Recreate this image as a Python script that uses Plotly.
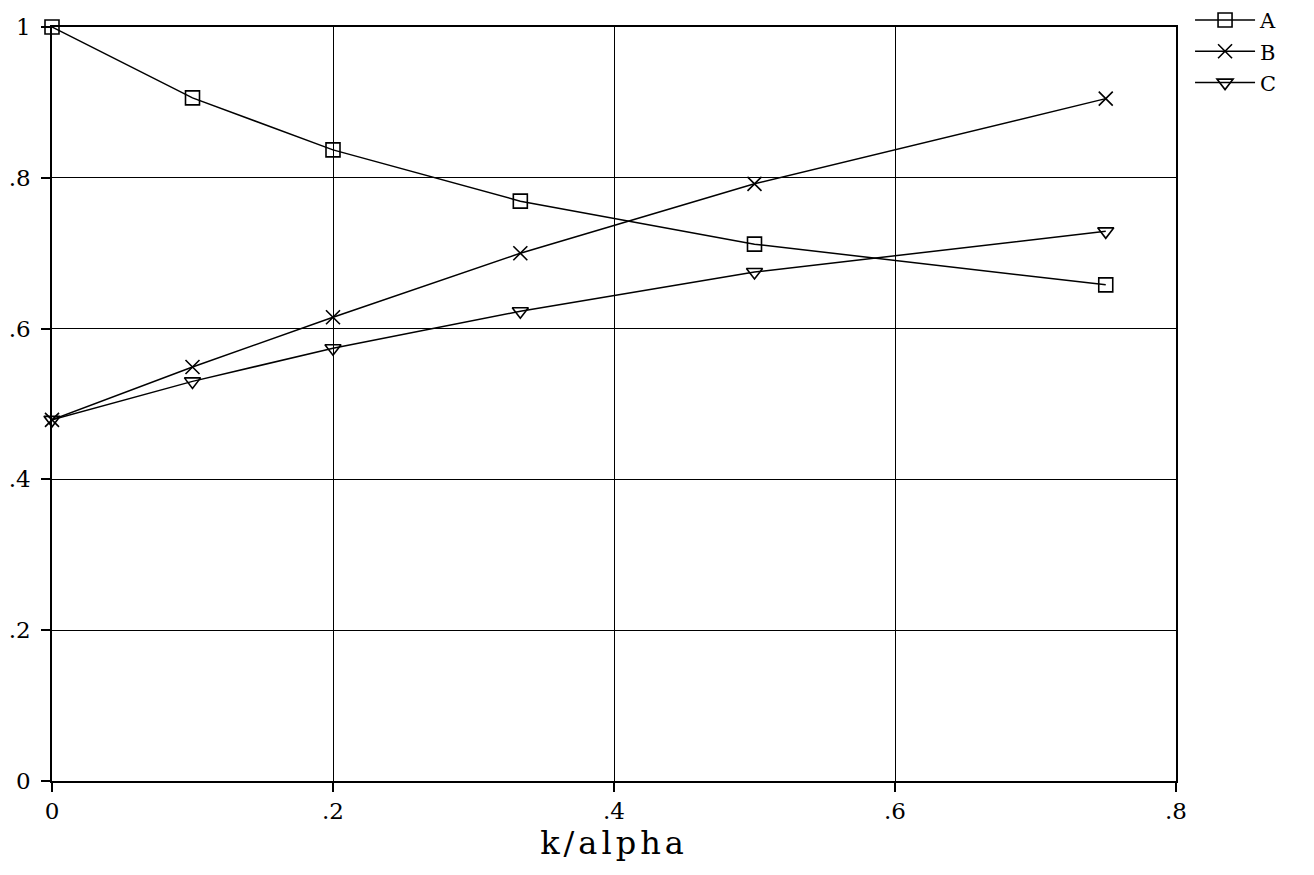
import plotly.graph_objects as go

x_vals = [0.0, 0.1, 0.2, 1/3, 0.5, 0.75]
series_a = [1.0, 0.906, 0.837, 0.769, 0.712, 0.658]
series_b = [0.479, 0.549, 0.615, 0.700, 0.792, 0.905]
series_c = [0.479, 0.530, 0.574, 0.623, 0.675, 0.729]
x_ticks = [0, 0.2, 0.4, 0.6, 0.8]
x_ticktext = ["0", ".2", ".4", ".6", ".8"]
y_ticks = [0, 0.2, 0.4, 0.6, 0.8, 1.0]
y_ticktext = ["0", ".2", ".4", ".6", ".8", "1"]

font_family = "DejaVu Serif"

fig = go.Figure()
specs = [("A", series_a, "square-open"), ("B", series_b, "x-thin-open"), ("C", series_c, "triangle-down-open")]
for name, ys, sym in specs:
    fig.add_trace(go.Scatter(
        x=x_vals, y=ys, name=name, mode="lines+markers", legendgroup=name,
        line=dict(color="black", width=1.5),
        marker=dict(symbol=sym, size=14, color="black", line=dict(color="black", width=1.6)),
        cliponaxis=False,
    ))

fig.update_layout(
    width=1314, height=875,
    margin=dict(l=44, r=146, t=19, b=102, autoexpand=False),
    paper_bgcolor="white", plot_bgcolor="white",
    font=dict(family=font_family, color="black", size=23),
    showlegend=True,
    legend=dict(x=1.0125, y=1.036, xref="paper", yref="paper",
                xanchor="left", yanchor="top",
                font=dict(family=font_family, size=21, color="black"),
                itemwidth=60, bgcolor="rgba(0,0,0,0)", tracegroupgap=1),
    xaxis=dict(range=[0, 0.8], tickvals=x_ticks, ticktext=x_ticktext,
               showgrid=True, gridcolor="black", gridwidth=1,
               showline=True, linecolor="black", linewidth=1.5, mirror=True,
               ticks="outside", ticklen=9, tickcolor="black", tickwidth=1.5,
               zeroline=False, automargin=False,
               title=dict(text='<span style="letter-spacing:4px">k/alpha</span>',
                          font=dict(family=font_family, size=32), standoff=0),
               tickfont=dict(family=font_family, size=23)),
    yaxis=dict(range=[0, 1], tickvals=y_ticks, ticktext=y_ticktext,
               showgrid=True, gridcolor="black", gridwidth=1,
               showline=True, linecolor="black", linewidth=1.5, mirror=True,
               ticks="outside", ticklen=9, tickcolor="black", tickwidth=1.5,
               zeroline=False, ticklabelstandoff=6, automargin=False,
               tickfont=dict(family=font_family, size=23)),
)

fig.write_html("out.html")
